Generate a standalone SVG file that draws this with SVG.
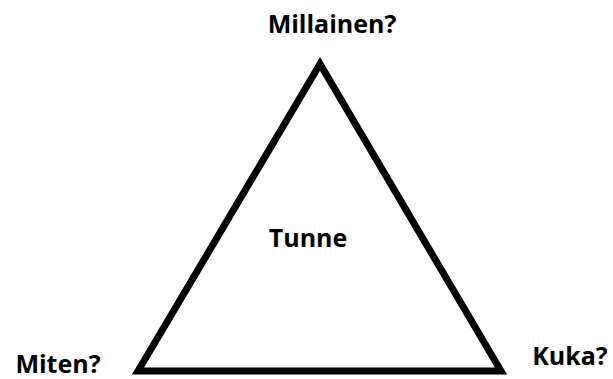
<svg xmlns="http://www.w3.org/2000/svg" width="613" height="379" viewBox="0 0 613 379">
<style>
.lbl{font-family:"Open Sans","Liberation Sans",sans-serif;font-weight:bold;font-size:25px;fill:#000}
.tri{fill:none;stroke:#000;stroke-width:7;stroke-linejoin:miter;stroke-miterlimit:10}
</style>
<rect width="613" height="379" fill="#fff"/>
<g id="connectors">
<polygon class="tri" points="320,64 138,371 501,371"/>
</g>
<g id="node-millainen"><text class="lbl" x="332" y="33" text-anchor="middle">Millainen?</text></g>
<g id="node-tunne"><text class="lbl" x="308" y="247" text-anchor="middle">Tunne</text></g>
<g id="node-miten"><text class="lbl" x="58" y="373" text-anchor="middle">Miten?</text></g>
<g id="node-kuka"><text class="lbl" x="570" y="365" text-anchor="middle">Kuka?</text></g>
</svg>
